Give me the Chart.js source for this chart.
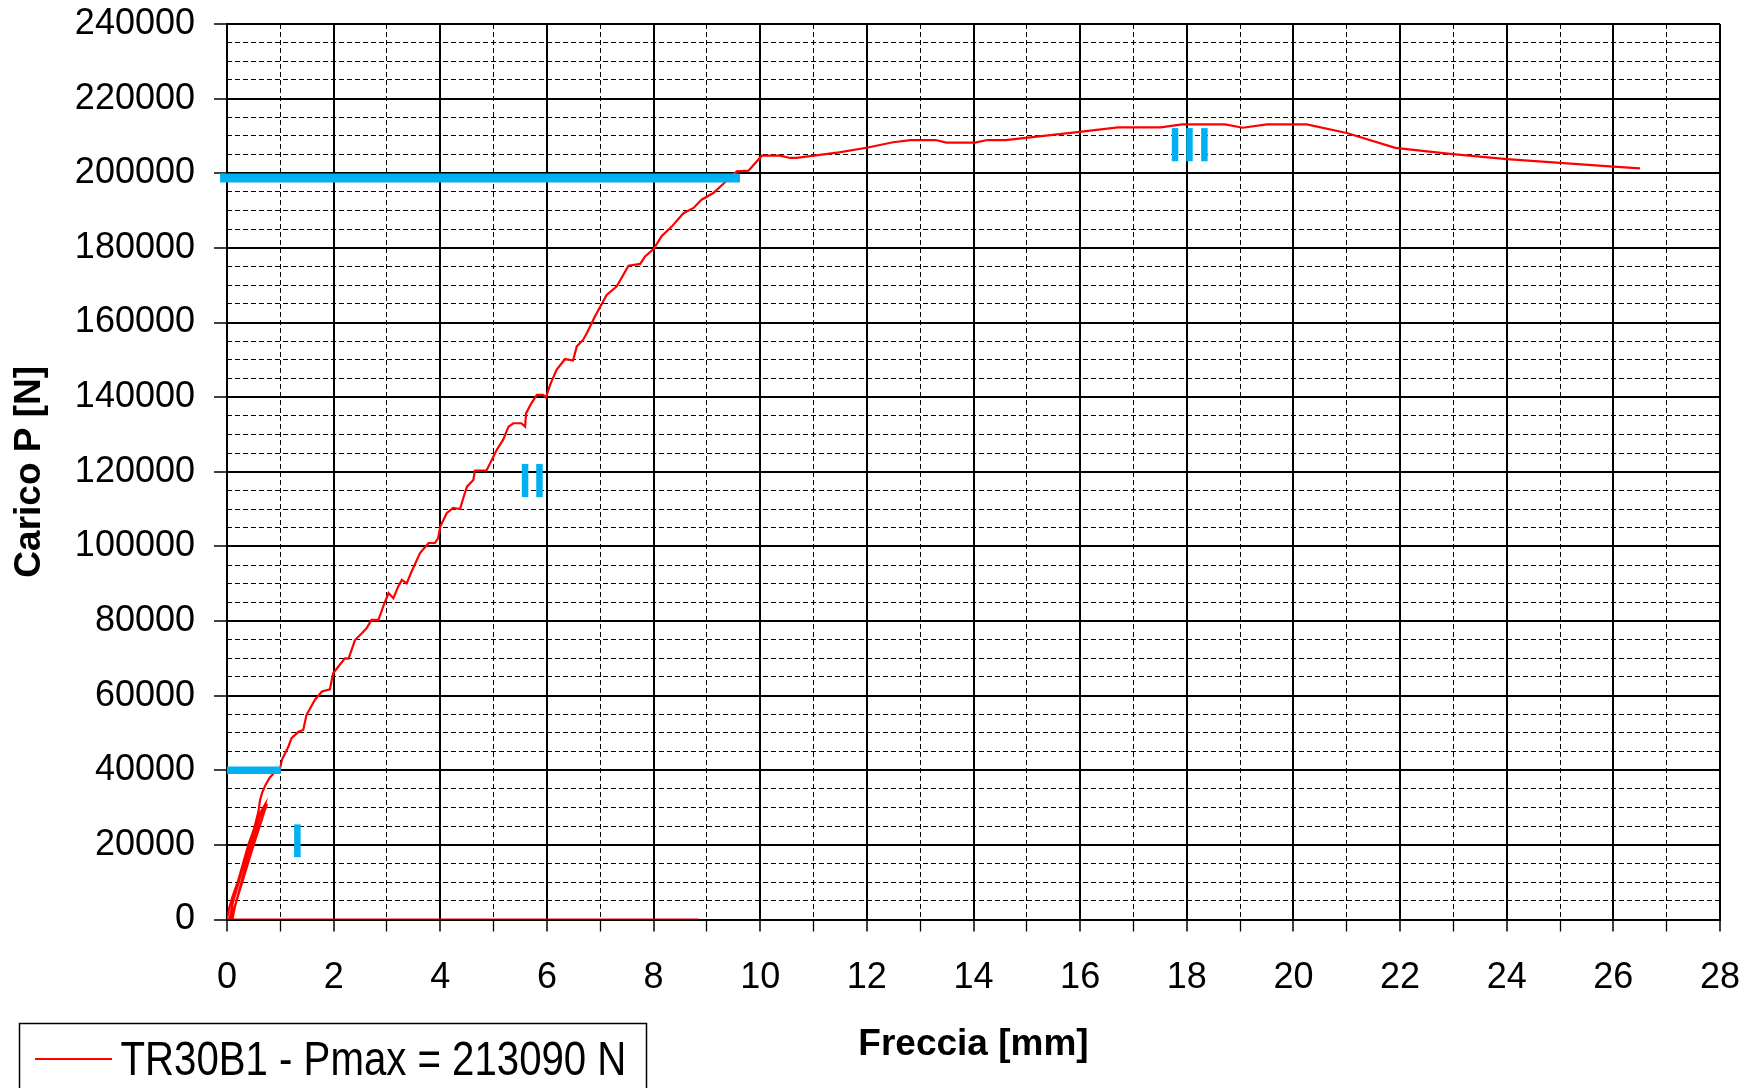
<!DOCTYPE html>
<html>
<head>
<meta charset="utf-8">
<script src="https://cdn.jsdelivr.net/npm/chart.js@4.4.1/dist/chart.umd.min.js"></script>
<style>
  html, body { margin: 0; padding: 0; background: #fff; }
  #wrap { width: 1746px; height: 1088px; }
</style>
</head>
<body>
<div id="wrap"><canvas id="c" width="1746" height="1088"></canvas></div>
<script>
// ---------------- DATA ----------------
const seriesLabel = 'TR30B1 - Pmax = 213090 N';

// Freccia [mm]
const freccia = [
  8.85, 0.00,
  0.00, 0.04, 0.10, 0.20, 0.30, 0.40, 0.50, 0.60, 0.72,
  0.66, 0.50, 0.35, 0.20, 0.12, 0.10,
  0.15, 0.25, 0.38, 0.50, 0.62, 0.75,
  0.68, 0.55, 0.40, 0.27, 0.17, 0.05,
  0.10, 0.20, 0.32, 0.42, 0.52, 0.59, 0.62, 0.66, 0.72, 0.80, 0.90,
  0.99, 1.03, 1.15, 1.21, 1.34, 1.43, 1.49, 1.65, 1.78, 1.93,
  1.99, 2.09, 2.21, 2.28, 2.40, 2.53, 2.62, 2.71, 2.84, 2.93,
  3.03, 3.12, 3.21, 3.28, 3.37, 3.46, 3.62, 3.78, 3.90, 3.96,
  4.00, 4.12, 4.24, 4.37, 4.43, 4.50, 4.62, 4.65, 4.87, 5.06,
  5.18, 5.28, 5.37, 5.52, 5.59, 5.61, 5.71, 5.81, 5.93, 5.98,
  6.06, 6.18, 6.34, 6.49, 6.56, 6.68, 6.75, 6.90, 7.12, 7.31,
  7.53, 7.75, 7.84, 8.00, 8.15, 8.34, 8.56, 8.75, 8.90, 9.12,
  9.34, 9.56, 9.78, 10.03, 10.37, 10.56, 10.68, 11.48, 12.02, 12.49,
  12.82, 13.29, 13.49, 14.03, 14.26, 14.60, 15.99, 16.71, 17.51, 17.91,
  18.72, 19.05, 19.50, 20.25, 21.00, 21.91, 22.94, 24.00, 25.00, 26.00,
  26.50
];

// Carico P [N]
const carico = [
  0, 0,
  0, 3000, 6000, 10000, 15000, 20000, 24000, 28000, 31000,
  27000, 20000, 13000, 6000, 2000, 0,
  3500, 9000, 16000, 22000, 27500, 31000,
  28000, 22500, 15500, 9500, 4500, 0,
  4000, 9000, 15000, 20000, 25000, 29000, 32000, 34000, 36000, 38000, 39500,
  40100, 42800, 46300, 48600, 50300, 50800, 54800, 58900, 61100, 61700,
  66000, 67800, 70000, 69900, 74900, 76700, 78100, 80300, 80300, 83900,
  87500, 86100, 89200, 91000, 90100, 93200, 98200, 100900, 100900, 102200,
  105300, 108900, 110300, 110000, 112900, 116000, 117800, 120300, 120400, 125900,
  128600, 132100, 133000, 133000, 132100, 135700, 138400, 140600, 140600, 139900,
  143300, 147300, 150200, 149800, 153600, 155400, 157200, 161600, 167400, 169700,
  175200, 175700, 177700, 179700, 183100, 185700, 189300, 190700, 192900, 194700,
  197600, 200500, 200700, 204700, 204700, 204100, 204100, 205600, 206900, 208300,
  208900, 208900, 208200, 208200, 208900, 208900, 211100, 212300, 212300, 213090,
  213090, 212200, 213090, 213090, 210800, 206800, 205200, 203800, 202800, 201800,
  201300
];

// Phase markers (blue): [x, y] end points in data units
const levelHigh = [[-0.13, 198700], [9.62, 198700]];
const levelLow  = [[0.00, 40000], [1.01, 40000]];
const phaseI    = [[[1.32, 16700], [1.32, 25500]]];
const phaseII   = [[[5.59, 113200], [5.59, 122100]], [[5.86, 113200], [5.86, 122100]]];
const phaseIII  = [[[17.78, 203200], [17.78, 212100]], [[18.05, 203200], [18.05, 212100]], [[18.33, 203200], [18.33, 212100]]];

// Tick values
const xTicks = [0, 2, 4, 6, 8, 10, 12, 14, 16, 18, 20, 22, 24, 26, 28];
const xMinorTicks = [0, 1, 2, 3, 4, 5, 6, 7, 8, 9, 10, 11, 12, 13, 14, 15, 16, 17, 18, 19, 20, 21, 22, 23, 24, 25, 26, 27, 28];
const yTicks = [0, 20000, 40000, 60000, 80000, 100000, 120000, 140000, 160000, 180000, 200000, 220000, 240000];
const yMinorTicks = [0, 5000, 10000, 15000, 20000, 25000, 30000, 35000, 40000, 45000, 50000, 55000,
  60000, 65000, 70000, 75000, 80000, 85000, 90000, 95000, 100000, 105000, 110000, 115000,
  120000, 125000, 130000, 135000, 140000, 145000, 150000, 155000, 160000, 165000, 170000, 175000,
  180000, 185000, 190000, 195000, 200000, 205000, 210000, 215000, 220000, 225000, 230000, 235000, 240000];

// ---------------- CHART ----------------
const FONT = '"Liberation Sans", Arial, Helvetica, sans-serif';
const RED = '#ff0000';
const BLUE = '#00b0f0';

const pts = (arr) => arr.map(p => ({x: p[0], y: p[1]}));

const mainData = freccia.map((x, i) => ({x: x, y: carico[i]}));

const markerSets = [];
function addMarker(seg, width) {
  markerSets.push({
    label: '_marker',
    data: pts(seg),
    showLine: true,
    borderColor: BLUE,
    backgroundColor: BLUE,
    borderWidth: width,
    borderCapStyle: 'butt',
    pointRadius: 0,
    clip: false,
    order: 0
  });
}
addMarker(levelHigh, 9);
addMarker(levelLow, 7.5);
phaseI.forEach(s => addMarker(s, 6.5));
phaseII.forEach(s => addMarker(s, 6.5));
phaseIII.forEach(s => addMarker(s, 6.5));

const boxLegend = {
  id: 'boxLegend',
  afterDraw(chart) {
    const ds = chart.data.datasets[0];
    const ctx = chart.ctx;
    ctx.save();
    ctx.strokeStyle = '#000';
    ctx.lineWidth = 1.5;
    ctx.strokeRect(19.5, 1023.5, 627, 90);
    ctx.strokeStyle = ds.borderColor;
    ctx.lineWidth = 2.2;
    ctx.beginPath();
    ctx.moveTo(35, 1059);
    ctx.lineTo(112, 1059);
    ctx.stroke();
    ctx.fillStyle = '#000';
    ctx.font = '49px ' + FONT;
    ctx.textBaseline = 'alphabetic';
    ctx.textAlign = 'left';
    ctx.translate(120.5, 1075);
    ctx.scale(0.82, 1);
    ctx.fillText(ds.label, 0, 0);
    ctx.restore();
  }
};

const noPadH = s => { s.paddingLeft = 0; s.paddingRight = 0; };
const noPadV = s => { s.paddingTop = 0; s.paddingBottom = 0; };

new Chart(document.getElementById('c'), {
  type: 'scatter',
  data: {
    datasets: [
      {
        label: seriesLabel,
        data: mainData,
        showLine: true,
        borderColor: RED,
        backgroundColor: RED,
        borderWidth: 2.2,
        pointRadius: 0,
        tension: 0,
        order: 1
      },
      ...markerSets
    ]
  },
  options: {
    responsive: false,
    animation: false,
    events: [],
    layout: { padding: { left: 0, top: 24, right: 26, bottom: 0 } },
    plugins: {
      legend: { display: false },
      tooltip: { enabled: false },
      title: { display: false }
    },
    scales: {
      x: {
        type: 'linear', position: 'bottom', min: 0, max: 28, weight: 0,
        afterBuildTicks: s => { s.ticks = xTicks.map(v => ({value: v})); },
        afterFit: s => { s.height = 168.5; noPadH(s); },
        grid: { color: '#000', lineWidth: 2, tickLength: 12, tickColor: '#000', tickWidth: 1.5 },
        border: { color: '#000', width: 2 },
        ticks: { font: { family: FONT, size: 36 }, color: '#000', padding: 25, maxRotation: 0, autoSkip: false,
                 callback: v => String(v) },
        title: { display: true, text: 'Freccia [mm]', color: '#000',
                 font: { family: FONT, size: 37, weight: 'bold' }, padding: { top: 0, bottom: 21 } }
      },
      xMinor: {
        type: 'linear', position: 'bottom', min: 0, max: 28, weight: -1,
        afterBuildTicks: s => { s.ticks = xMinorTicks.map(v => ({value: v})); },
        afterFit: s => { s.height = 0; noPadH(s); },
        grid: {
          color: c => (c.tick && c.tick.value % 2 === 0) ? 'rgba(0,0,0,0)' : '#000',
          tickColor: c => (c.tick && c.tick.value % 2 === 0) ? 'rgba(0,0,0,0)' : '#000',
          lineWidth: 1, tickLength: 12, tickWidth: 1.3
        },
        border: { display: false, dash: [5, 3] },
        ticks: { display: false }
      },
      y: {
        type: 'linear', position: 'left', min: 0, max: 240000, weight: 0,
        afterBuildTicks: s => { s.ticks = yTicks.map(v => ({value: v})); },
        afterFit: s => { s.width = 227; noPadV(s); },
        grid: { color: '#000', lineWidth: 2, tickLength: 13, tickColor: '#000', tickWidth: 1.5 },
        border: { color: '#000', width: 2 },
        ticks: { font: { family: FONT, size: 36 }, color: '#000', padding: 19, autoSkip: false,
                 callback: v => String(v) },
        title: { display: true, text: 'Carico P [N]', color: '#000',
                 font: { family: FONT, size: 37, weight: 'bold' }, padding: { top: 8, bottom: 0 } }
      },
      yMinor: {
        type: 'linear', position: 'left', min: 0, max: 240000, weight: -1,
        afterBuildTicks: s => { s.ticks = yMinorTicks.map(v => ({value: v})); },
        afterFit: s => { s.width = 0; noPadV(s); },
        grid: {
          color: c => (c.tick && c.tick.value % 20000 === 0) ? 'rgba(0,0,0,0)' : '#000',
          lineWidth: 1, drawTicks: false
        },
        border: { display: false, dash: [5, 3] },
        ticks: { display: false }
      }
    }
  },
  plugins: [boxLegend]
});
</script>
</body>
</html>
